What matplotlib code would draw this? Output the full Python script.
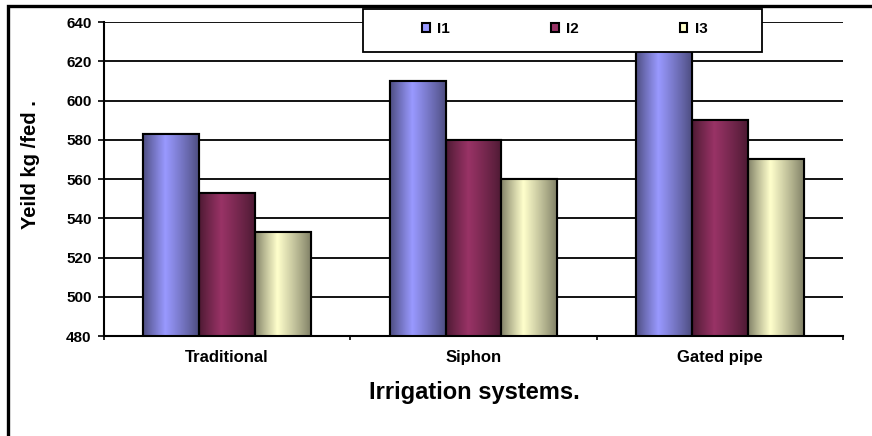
#Recreates the bar chart of seed yield vs irrigation system

import numpy as np
import matplotlib
matplotlib.use('Agg')
import matplotlib.pyplot as plt
from matplotlib.patches import Rectangle

#data
systems = ['Traditional', 'Siphon', 'Gated pipe']
series_names = ['I1', 'I2', 'I3']
i1_yield = [583, 610, 640]
i2_yield = [553, 580, 590]
i3_yield = [533, 560, 570]
y_ticks = [480, 500, 520, 540, 560, 580, 600, 620, 640]

#colours: light centre and dark edge of each bar gradient
light_cols = ['#9999FF', '#993366', '#FFFFCC']
dark_cols = ['#4D4D80', '#4D1A33', '#808066']

plt.rcParams['font.family'] = ['Liberation Sans', 'DejaVu Sans']
plt.rcParams['font.weight'] = 'bold'

W, H = 872, 436
fig = plt.figure(figsize=(W/100, H/100), dpi=100)
fig.patch.set_facecolor('white')

def fx(px):
    return px/W

def fy(py):
    return 1 - py/H

ax = fig.add_axes([fx(104), fy(336), fx(843) - fx(104), fy(22) - fy(336)])

#builds a horizontal dark-light-dark gradient image
def gradient(light, dark, n=64):
    l = np.array(matplotlib.colors.to_rgb(light))
    d = np.array(matplotlib.colors.to_rgb(dark))
    t = np.linspace(0, 1, n)
    w = np.where(t < 0.4, t/0.4, 1 - (t - 0.4)/0.6)
    w = np.clip(w, 0, 1)**0.9
    img = d[None, :]*(1 - w[:, None]) + l[None, :]*w[:, None]
    return img[None, :, :]

ymin, ymax = 480, 640
x = np.arange(len(systems))
bw = 0.2265
all_series = [i1_yield, i2_yield, i3_yield]
handles = []
for k, vals in enumerate(all_series):
    pos = x + (k - 1)*bw
    bars = ax.bar(pos, np.array(vals) - ymin, bw, bottom=ymin,
                  facecolor=light_cols[k], edgecolor='black', linewidth=1.5,
                  zorder=3, label=series_names[k])
    handles.append(bars)
    img = gradient(light_cols[k], dark_cols[k])
    for b in bars:
        bx, by = b.get_x(), b.get_y()
        ax.imshow(img, extent=(bx, bx + b.get_width(), by, by + b.get_height()),
                  aspect='auto', zorder=3.5, interpolation='bilinear')
        # outline on top of the gradient
        ax.add_patch(Rectangle((bx, by), b.get_width(), b.get_height(),
                               fill=False, edgecolor='black', linewidth=1.5, zorder=4))

ax.set_xlim(-0.5, len(systems) - 0.5)
ax.set_ylim(ymin, ymax)
ax.set_yticks(y_ticks)
ax.set_yticklabels([str(v) for v in y_ticks], fontsize=11, fontweight='bold')
ax.yaxis.grid(True, color='black', linewidth=1.3)
ax.set_axisbelow(True)

ax.set_xticks(x)
ax.set_xticklabels(systems, fontsize=12, fontweight='bold')
ax.set_xticks(np.arange(len(systems) + 1) - 0.5, minor=True)
ax.tick_params(axis='x', which='major', length=0, pad=10)
ax.tick_params(axis='x', which='minor', length=3, width=1.2, direction='out')
ax.tick_params(axis='y', length=4, width=1.2, pad=5)

for s in ['top', 'right']:
    ax.spines[s].set_visible(False)
ax.spines['left'].set_linewidth(1.5)
ax.spines['bottom'].set_linewidth(1.5)

fig.text(fx(30), fy(165), 'Yeild kg /fed .', rotation=90, fontsize=14.5,
         fontweight='bold', ha='center', va='center')
fig.text(fx(474), fy(392), 'Irrigation systems.', fontsize=17,
         fontweight='bold', ha='center', va='center')

#legend box and entries
fig.add_artist(Rectangle((fx(363), fy(52)), fx(762) - fx(363), fy(9) - fy(52),
                         transform=fig.transFigure, facecolor='white',
                         edgecolor='black', linewidth=1.3, zorder=5))
leg = fig.legend(handles=handles, labels=series_names, loc='center',
                 bbox_to_anchor=(fx(565), fy(29)), ncol=3, frameon=False,
                 fontsize=11, handlelength=0.5, handleheight=0.5,
                 handletextpad=0.5, columnspacing=6.6)
leg.set_zorder(6)
for h in leg.legend_handles:
    h.set_linewidth(1.5)
    h.set_edgecolor('black')

#outer chart border (only left and top visible)
fig.add_artist(Rectangle((fx(8), fy(440)), 1.2, fy(6) - fy(440),
                         transform=fig.transFigure, fill=False,
                         edgecolor='black', linewidth=2.4, zorder=7))

fig.savefig('out.png', dpi=100)
